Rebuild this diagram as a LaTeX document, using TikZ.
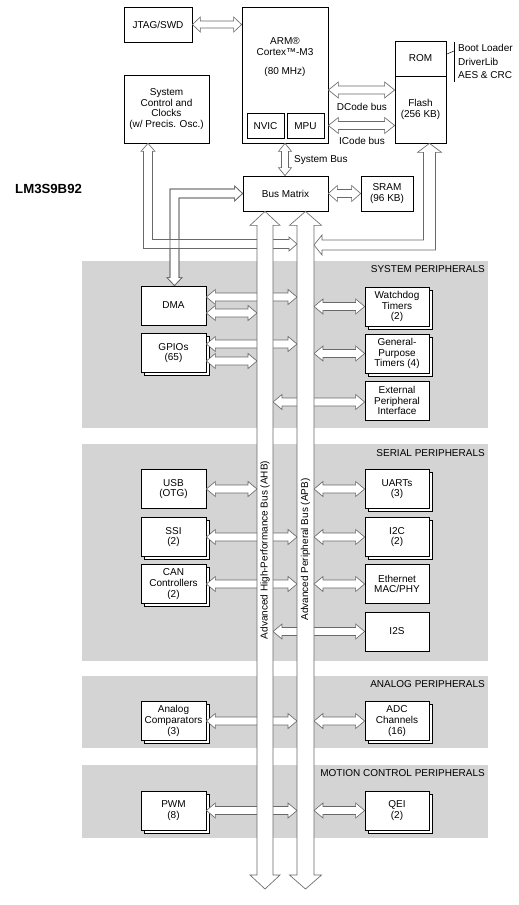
\documentclass[tikz,border=0pt]{standalone}
\usepackage{fontspec}
\setmainfont{Liberation Sans}
\usetikzlibrary{calc,shadows}
\definecolor{band}{RGB}{212,212,212}
\definecolor{arr}{RGB}{105,105,105}
% horizontal double hollow arrow: #1 left x-ref, #2 right x-ref, #3 y-ref, #4 shaft half, #5 head half, #6 head length
\newcommand\HArr[6]{\draw[hol] let \p1=(#1), \p2=(#2), \p3=(#3) in
  (\x1,\y3) -- ({\x1+#6},{\y3+#5}) -- ({\x1+#6},{\y3+#4}) -- ({\x2-#6},{\y3+#4}) -- ({\x2-#6},{\y3+#5}) -- (\x2,\y3)
  -- ({\x2-#6},{\y3-#5}) -- ({\x2-#6},{\y3-#4}) -- ({\x1+#6},{\y3-#4}) -- ({\x1+#6},{\y3-#5}) -- cycle;}
\newcommand\PArr[3]{\HArr{#1}{#2}{#3}{4pt}{7.5pt}{9pt}}
% vertical double hollow arrow: #1 top y-ref, #2 bottom y-ref, #3 x-ref
\newcommand\VArr[6]{\draw[hol] let \p1=(#1), \p2=(#2), \p3=(#3) in
  (\x3,\y1) -- ({\x3+#5},{\y1-#6}) -- ({\x3+#4},{\y1-#6}) -- ({\x3+#4},{\y2+#6}) -- ({\x3+#5},{\y2+#6}) -- (\x3,\y2)
  -- ({\x3-#5},{\y2+#6}) -- ({\x3-#4},{\y2+#6}) -- ({\x3-#4},{\y1-#6}) -- ({\x3-#5},{\y1-#6}) -- cycle;}
% DMA <-> Bus Matrix elbow
\newcommand\DmaConn[1]{\path[#1] let \p1=(dma.north), \p2=(bm.west), \p3=(dmabend) in
  (\x3,\y1) -- ({\x3-7.5pt},{\y1+8pt}) -- ({\x3-4.5pt},{\y1+8pt}) -- ({\x3-4.5pt},{\y3+4.5pt}) -- ({\x2-8pt},{\y3+4.5pt})
  -- ({\x2-8pt},{\y3+7.5pt}) -- (\x2,\y3) -- ({\x2-8pt},{\y3-7.5pt}) -- ({\x2-8pt},{\y3-4.5pt}) -- ({\x3+4.5pt},{\y3-4.5pt})
  -- ({\x3+4.5pt},{\y1+8pt}) -- ({\x3+7.5pt},{\y1+8pt}) -- cycle;}
% System control <-> APB elbow
\newcommand\ScConn[1]{\path[#1] let \p1=(sc.south), \p2=(apbL), \p3=(scbend) in
  (\x3,\y1) -- ({\x3+7pt},{\y1-8pt}) -- ({\x3+4.5pt},{\y1-8pt}) -- ({\x3+4.5pt},{\y3+4.5pt}) -- ({\x2-8pt},{\y3+4.5pt})
  -- ({\x2-8pt},{\y3+7pt}) -- (\x2,\y3) -- ({\x2-8pt},{\y3-7pt}) -- ({\x2-8pt},{\y3-4.5pt}) -- ({\x3-4.5pt},{\y3-4.5pt})
  -- ({\x3-4.5pt},{\y1-8pt}) -- ({\x3-7pt},{\y1-8pt}) -- cycle;}
% Flash <-> APB elbow
\newcommand\FlConn[1]{\path[#1] let \p1=(flash.south), \p2=(apbR), \p3=(flbend) in
  (\x3,\y1) -- ({\x3+12pt},{\y1-9pt}) -- ({\x3+6pt},{\y1-9pt}) -- ({\x3+6pt},{\y3-5pt}) -- ({\x2+8pt},{\y3-5pt})
  -- ({\x2+8pt},{\y3-10pt}) -- (\x2,\y3) -- ({\x2+8pt},{\y3+10pt}) -- ({\x2+8pt},{\y3+5pt}) -- ({\x3-6pt},{\y3+5pt})
  -- ({\x3-6pt},{\y1-9pt}) -- ({\x3-12pt},{\y1-9pt}) -- cycle;}
\begin{document}
\begin{tikzpicture}[x=1pt,y=-1pt,
  font=\fontsize{10}{10.6}\selectfont,
  box/.style={draw=black,line width=0.75pt,fill=white,align=center,inner sep=1pt},
  sbox/.style={box,copy shadow={shadow xshift=3pt,shadow yshift=-3pt,fill=white,draw=black,line width=0.75pt}},
  lbox/.style={minimum width=65pt,minimum height=39pt},
  rbox/.style={minimum width=64pt,minimum height=39pt},
  hol/.style={draw=arr,fill=white,line width=0.65pt,line join=miter},
  bandrect/.style={fill=band,inner sep=0pt,anchor=north west,minimum width=406pt},
  bandlbl/.style={anchor=east,inner sep=0pt},
  lbl/.style={inner sep=0pt}]
\useasboundingbox (0,0) rectangle (519,905);
\fill[white] (0,0) rectangle (519,905);

% ---------- bands ----------
\node[bandrect,minimum height=167pt] (sysband) at (82,261) {};
\node[bandrect,minimum height=217pt] (serband) at (82,444) {};
\node[bandrect,minimum height=72pt] (anaband) at (82,676) {};
\node[bandrect,minimum height=73pt] (motband) at (82,765) {};
\node[bandlbl] (syslbl) at (485,269) {SYSTEM PERIPHERALS};
\node[bandlbl] (serlbl) at (485,453) {SERIAL PERIPHERALS};
\node[bandlbl] (analbl) at (485,684) {ANALOG PERIPHERALS};
\node[bandlbl] (motlbl) at (485,773) {MOTION CONTROL PERIPHERALS};

% ---------- bus reference coordinates ----------
\coordinate (ahbC) at (265,0);
\coordinate (ahbL) at (257,0);
\coordinate (ahbR) at (273,0);
\coordinate (apbC) at (305.5,0);
\coordinate (apbL) at (297,0);
\coordinate (apbR) at (314,0);
\coordinate (busend) at (265,889);
\coordinate (dmabend) at (174.5,193.5);
\coordinate (scbend) at (148,244);
\coordinate (flbend) at (429.5,245);

% ---------- top blocks ----------
\node[box,minimum width=68pt,minimum height=35pt] (jtag) at (158,24.5) {JTAG/SWD};
\node[box,minimum width=86pt,minimum height=136pt] (arm) at (285,75) {};
\node[lbl] (armt1) at (285,41) {ARM®};
\node[lbl] (armt2) at (285,52) {Cortex™-M3};
\node[lbl] (armt3) at (285,72) {(80 MHz)};
\node[box,minimum width=37pt,minimum height=25pt] (nvic) at (265.5,126) {NVIC};
\node[box,minimum width=37pt,minimum height=25pt] (mpu) at (305.5,126) {MPU};
\node[box,minimum width=51pt,minimum height=35pt] (rom) at (420.5,58.5) {ROM};
\node[box,minimum width=51pt,minimum height=67pt] (flash) at (420.5,109.5) {Flash\\(256 KB)};
\draw[line width=0.75pt] (454,42) -- (454,82);
\draw[line width=0.5pt] (447,54) -- (454,51);
\node[lbl,anchor=west] (bl) at (458,48) {Boot Loader};
\node[lbl,anchor=west] (dl) at (458,62) {DriverLib};
\node[lbl,anchor=west] (aes) at (458,75) {AES \& CRC};
\node[box,minimum width=85pt,minimum height=68pt] (sc) at (166.5,109) {System\\Control and\\Clocks\\(w/ Precis. Osc.)};
\node[box,minimum width=85pt,minimum height=35pt] (bm) at (285.5,193.5) {Bus Matrix};
\node[box,minimum width=52pt,minimum height=35pt] (sram) at (387,193.5) {SRAM\\(96 KB)};
\node[lbl,anchor=west,font=\fontsize{13.2}{14}\selectfont\bfseries] (chip) at (15,189) {LM3S9B92};

% ---------- peripheral blocks ----------
\node[box,lbox] (dma) at (173.5,305.5) {DMA};
\node[sbox,lbox] (gpio) at (173.5,353) {GPIOs\\(65)};
\node[sbox,rbox] (wd) at (397,306.5) {Watchdog\\Timers\\(2)};
\node[sbox,rbox] (gpt) at (397,353.5) {General-\\Purpose\\Timers (4)};
\node[box,rbox] (epi) at (397,400.5) {External\\Peripheral\\Interface};
\node[box,lbox] (usb) at (173.5,489) {USB\\(OTG)};
\node[sbox,lbox] (ssi) at (173.5,537) {SSI\\(2)};
\node[sbox,lbox] (can) at (173.5,584) {CAN\\Controllers\\(2)};
\node[sbox,rbox] (uart) at (397,489) {UARTs\\(3)};
\node[sbox,rbox] (i2c) at (397,537) {I2C\\(2)};
\node[box,rbox] (eth) at (397,584) {Ethernet\\MAC/PHY};
\node[box,rbox] (i2s) at (397,631.5) {I2S};
\node[sbox,lbox] (ac) at (173.5,721) {Analog\\Comparators\\(3)};
\node[sbox,rbox] (adc) at (397,721) {ADC\\Channels\\(16)};
\node[sbox,lbox] (pwm) at (173.5,810.5) {PWM\\(8)};
\node[sbox,rbox] (qei) at (397,810.5) {QEI\\(2)};

% ---------- top connectors ----------
\HArr{jtag.east}{arm.west}{jtag.east}{3.5pt}{7.5pt}{8pt}
\HArr{arm.east}{flash.west}{[yshift=-15pt]arm.east}{4pt}{8pt}{10pt}
\HArr{arm.east}{flash.west}{[yshift=-50.5pt]arm.east}{4pt}{8pt}{10pt}
\node[lbl] (dcode) at (362,107) {DCode bus};
\node[lbl] (icode) at (362,141) {ICode bus};
\HArr{bm.east}{sram.west}{bm.east}{4pt}{8pt}{9pt}
\VArr{arm.south}{bm.north}{arm.south}{3.5pt}{6.5pt}{8pt}
\node[lbl,anchor=west] (sysbus) at (294,160) {System Bus};

\DmaConn{hol}
\ScConn{hol}
\DmaConn{draw=arr,line width=0.65pt,line join=miter}
\FlConn{hol}

% ---------- peripheral connectors ----------
\PArr{dma.east}{apbL}{[yshift=8.5pt]dma.east}
\PArr{dma.east}{ahbL}{[yshift=-7.5pt]dma.east}
\PArr{gpio.east}{apbL}{[yshift=9pt]gpio.east}
\PArr{gpio.east}{ahbL}{[yshift=-8pt]gpio.east}
\PArr{apbR}{wd.west}{wd.west}
\PArr{apbR}{gpt.west}{gpt.west}
\PArr{ahbR}{epi.west}{[yshift=-1.5pt]epi.west}
\PArr{usb.east}{ahbL}{usb.east}
\PArr{ssi.east}{apbL}{ssi.east}
\PArr{can.east}{apbL}{can.east}
\PArr{apbR}{uart.west}{uart.west}
\PArr{apbR}{i2c.west}{i2c.west}
\PArr{apbR}{eth.west}{eth.west}
\PArr{ahbR}{i2s.west}{i2s.west}
\PArr{ac.east}{apbL}{ac.east}
\PArr{apbR}{adc.west}{adc.west}
\PArr{pwm.east}{apbL}{pwm.east}
\PArr{apbR}{qei.west}{qei.west}

% ---------- buses ----------
\VArr{bm.south}{busend}{ahbC}{8pt}{15pt}{14pt}
\VArr{bm.south}{busend}{apbC}{8.5pt}{16pt}{14pt}
\node[lbl,rotate=90] (ahblbl) at (265,550) {Advanced High-Performance Bus (AHB)};
\node[lbl,rotate=90] (apblbl) at (305.5,549.5) {Advanced Peripheral Bus (APB)};
\end{tikzpicture}
\end{document}
